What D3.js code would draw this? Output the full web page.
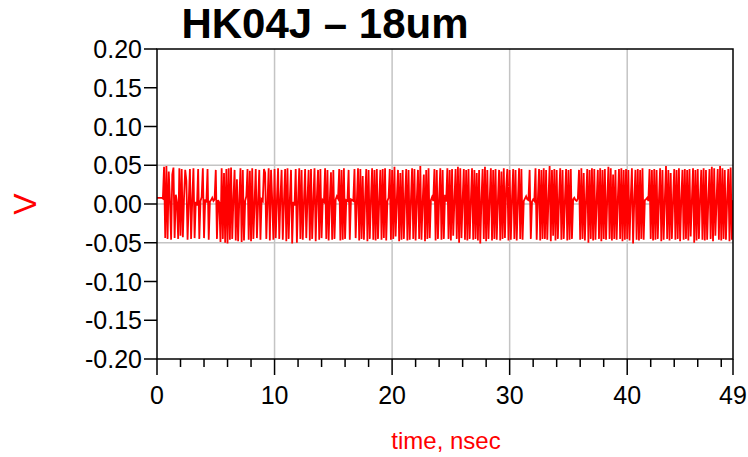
<!DOCTYPE html>
<html>
<head>
<meta charset="utf-8">
<script src="https://cdn.jsdelivr.net/npm/d3@7"></script>
<style>
  html, body { margin: 0; padding: 0; background: #fff; }
  svg { display: block; font-family: "Liberation Sans", Arial, sans-serif; }
</style>
</head>
<body>
<svg id="chart" width="748" height="457"></svg>
<script>
const titleText = "HK04J \u2013 18um";
const xLabel = "time, nsec";
const yLabel = "V";
const sampleStepNs = 0.1;
const xMajorTicks = [0, 10, 20, 30, 40, 49];
const xMinorTicks = [2, 4, 6, 8, 12, 14, 16, 18, 22, 24, 26, 28, 32, 34, 36, 38, 42, 44, 46, 48];
const yTicks = [0.20, 0.15, 0.10, 0.05, 0.00, -0.05, -0.10, -0.15, -0.20];
const xGrid = [10, 20, 30, 40];
const yGrid = [0.05, 0.00, -0.05];

const mv0to10 = [
  8,8,8,8,8,7,48,-44,49,-45,
  42,5,-46,38,47,-44,12,2,-45,46,
  -41,45,-43,8,44,30,-46,2,45,-45,
  6,46,-44,3,-2,45,-45,4,9,46,
  -44,6,2,45,-46,3,5,8,4,6,
  44,-45,5,2,-49,46,-45,40,-50,45,
  -51,46,-46,47,-45,6,44,-47,32,-48,
  5,46,-49,44,-47,4,10,45,-46,43,
  -48,46,-45,2,45,-44,2,44,-46,6,
  4,45,40,-45,3,46,-47,44,5,-46];
const mv10to20 = [
  45,-44,4,46,-45,7,44,-46,3,45,
  -48,46,-45,5,44,-51,3,-2,45,-50,
  4,46,-45,44,-46,3,45,-44,6,44,
  -47,45,-45,4,46,-48,8,44,-46,45,
  -44,5,3,46,-45,44,-47,4,41,-46,
  44,-45,6,10,7,45,-47,44,-46,46,
  -45,5,4,44,-46,6,5,4,45,-44,
  3,46,-47,45,-45,36,-46,5,45,-48,
  44,-45,6,46,-46,44,-47,45,-45,3,
  44,-46,45,-44,46,-47,4,8,45,-46];
const mv20to30 = [
  44,-45,48,-42,5,44,-48,40,-46,44,
  -45,6,45,-47,44,-46,4,46,-45,45,
  -47,5,44,-45,49,-46,3,38,-48,44,
  -45,46,-44,5,9,4,45,-47,44,-45,
  6,46,-46,44,-45,12,3,46,-45,44,
  -47,45,-41,4,45,-45,48,-50,46,-44,
  5,45,-46,44,-47,45,-45,4,46,-46,
  44,-45,40,-47,44,-51,5,45,-45,48,
  -48,44,-45,5,46,-47,44,-45,45,-46,
  4,44,-47,42,-45,46,-44,20,45,-47];
const mv30to40 = [
  44,-46,6,45,-45,44,-47,3,46,-45,
  45,-46,4,7,10,6,5,44,-45,3,
  6,4,46,-46,5,45,-47,44,-45,46,
  -45,44,-46,6,49,-48,44,-41,45,-47,
  44,-45,5,46,-46,44,-45,4,45,-47,
  44,-46,45,-45,6,8,5,4,7,44,
  -46,46,-45,40,-47,5,45,-50,44,-45,
  46,-47,45,-46,4,44,-45,46,-48,44,
  -45,45,-46,5,48,-45,46,-47,38,-45,
  44,-46,5,45,-45,46,-48,44,-46,45];
const mv40to49 = [
  -45,44,-47,6,46,-51,5,44,-46,45,
  -47,44,-45,46,-46,5,6,8,4,45,
  -45,44,-47,45,-46,44,-45,6,46,-48,
  44,-46,5,49,-45,44,-47,40,-45,4,
  45,-46,44,-45,46,-48,5,44,-46,45,
  -45,44,-47,45,-42,4,46,-50,44,-47,
  45,-45,6,44,-46,46,-47,44,-46,5,
  45,-45,48,-48,46,-41,4,45,-46,49,
  -47,46,-45,44,-46,5,45,-48,47,-46,
  5];

// ---- build ----
const samplesMv = [].concat(mv0to10, mv10to20, mv20to30, mv30to40, mv40to49);
const series = samplesMv.map((v, i) => ({ t: i * sampleStepNs, v: v / 1000 }));

const svg = d3.select("#chart");
const x = d3.scaleLinear().domain([0, 49]).range([157, 733]);
const y = d3.scaleLinear().domain([-0.2, 0.2]).range([359, 49]);

// grid
svg.append("g").selectAll("line").data(xGrid).join("line")
  .attr("x1", d => x(d)).attr("x2", d => x(d))
  .attr("y1", y(0.2)).attr("y2", y(-0.2))
  .attr("stroke", "#c4c4c4").attr("stroke-width", 1.5);
svg.append("g").selectAll("line").data(yGrid).join("line")
  .attr("x1", x(0)).attr("x2", x(49))
  .attr("y1", d => y(d)).attr("y2", d => y(d))
  .attr("stroke", "#c4c4c4").attr("stroke-width", 1.5);

// signal
const clipId = "plotclip";
svg.append("clipPath").attr("id", clipId).append("rect")
  .attr("x", x(0)).attr("y", y(0.2)).attr("width", x(49) - x(0)).attr("height", y(-0.2) - y(0.2));
svg.append("path")
  .datum(series)
  .attr("clip-path", `url(#${clipId})`)
  .attr("fill", "none")
  .attr("stroke", "#ff0000")
  .attr("stroke-width", 1.8)
  .attr("stroke-linejoin", "miter")
  .attr("d", d3.line().x(d => x(d.t)).y(d => y(d.v)));

// frame
svg.append("rect")
  .attr("x", x(0)).attr("y", y(0.2))
  .attr("width", x(49) - x(0)).attr("height", y(-0.2) - y(0.2))
  .attr("fill", "none").attr("stroke", "#000").attr("stroke-width", 1.5);

// y axis ticks + labels
const yAxis = svg.append("g");
yAxis.selectAll("line").data(yTicks).join("line")
  .attr("x1", x(0) - 13).attr("x2", x(0))
  .attr("y1", d => y(d)).attr("y2", d => y(d))
  .attr("stroke", "#000").attr("stroke-width", 1.5);
yAxis.selectAll("text").data(yTicks).join("text")
  .attr("x", x(0) - 15).attr("y", d => y(d))
  .attr("dy", "0.36em")
  .attr("text-anchor", "end")
  .attr("font-size", 25)
  .attr("fill", "#000")
  .text(d => d3.format(".2f")(d).replace("\u2212", "-"));

// x axis ticks + labels
const xAxis = svg.append("g");
xAxis.selectAll("line.minor").data(xMinorTicks).join("line")
  .attr("class", "minor")
  .attr("x1", d => x(d)).attr("x2", d => x(d))
  .attr("y1", y(-0.2)).attr("y2", y(-0.2) + 8)
  .attr("stroke", "#000").attr("stroke-width", 1.5);
xAxis.selectAll("line.major").data(xMajorTicks).join("line")
  .attr("class", "major")
  .attr("x1", d => x(d)).attr("x2", d => x(d))
  .attr("y1", y(-0.2)).attr("y2", y(-0.2) + 16)
  .attr("stroke", "#000").attr("stroke-width", 1.5);
xAxis.selectAll("text").data(xMajorTicks).join("text")
  .attr("x", d => x(d)).attr("y", 404)
  .attr("text-anchor", "middle")
  .attr("font-size", 25)
  .attr("fill", "#000")
  .text(d => d);

// titles
svg.append("text")
  .attr("x", 325).attr("y", 38)
  .attr("text-anchor", "middle")
  .attr("font-size", 42).attr("font-weight", "bold")
  .attr("fill", "#000")
  .text(titleText);
svg.append("text")
  .attr("x", 446).attr("y", 449)
  .attr("text-anchor", "middle")
  .attr("font-size", 24)
  .attr("fill", "#ff0000")
  .text(xLabel);
svg.append("text")
  .attr("transform", `translate(36, ${y(0)}) rotate(-90)`)
  .attr("text-anchor", "middle")
  .attr("font-size", 32)
  .attr("fill", "#ff0000")
  .text(yLabel);
</script>
</body>
</html>
